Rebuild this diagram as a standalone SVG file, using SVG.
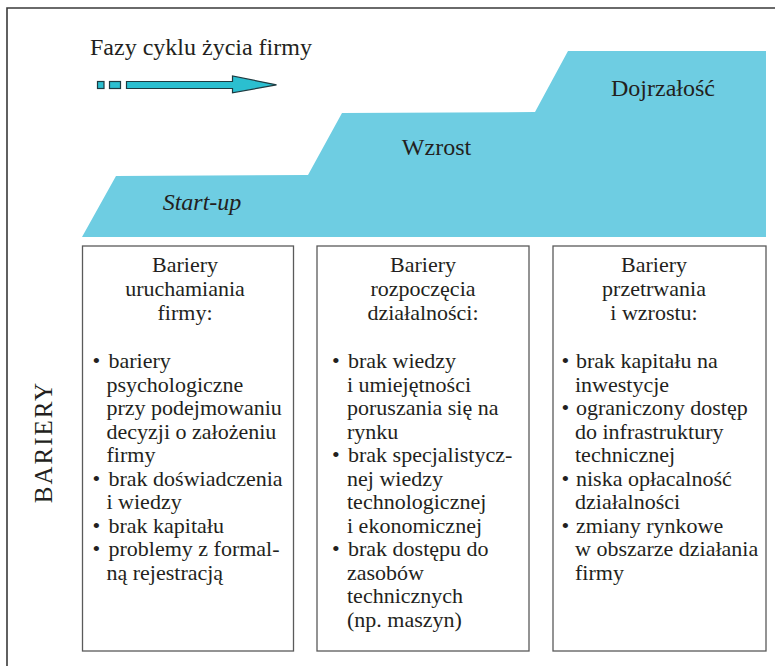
<svg xmlns="http://www.w3.org/2000/svg" width="775" height="666" viewBox="0 0 775 666">
  <style>
    text { fill: #231f20; }
    .head { font-size: 22px; text-anchor: middle; }
    .item { font-size: 22px; }
    .phase { font-size: 24px; text-anchor: middle; }
    .box { fill: #ffffff; stroke: #5a5a5a; stroke-width: 1.3; }
    .arrow { fill: #2bbfd0; stroke: #1d3a40; stroke-width: 1.2; }
  </style>

  <g font-family="'Liberation Serif', 'Times New Roman', serif">
  <!-- outer frame (open at right and bottom) -->
  <path d="M7,666 L7,8 L775,8" fill="none" stroke="#3a3a3a" stroke-width="1.6"/>

  <!-- title -->
  <g id="title">
    <text x="90" y="55" font-size="24">Fazy cyklu życia firmy</text>
  </g>

  <!-- direction arrow -->
  <g id="phase-arrow">
    <rect class="arrow" x="97.5" y="81.5" width="6.5" height="7"/>
    <rect class="arrow" x="109.5" y="81.5" width="11" height="7"/>
    <path class="arrow" d="M126.5,81.5 L232.5,81.5 L232.5,76 L276.5,84.8 L232.5,92.8 L232.5,88.5 L126.5,88.5 Z"/>
  </g>

  <!-- life-cycle phases as a staircase -->
  <g id="phases">
    <path d="M82,237 L116,176 L308,175 L342,113 L535,112 L568,51 L766,51 L766,237 Z" fill="#6ecde2"/>
    <text class="phase" x="202" y="210" font-style="italic">Start-up</text>
    <text class="phase" x="436.5" y="154.5">Wzrost</text>
    <text class="phase" x="663" y="95.5">Dojrzałość</text>
  </g>

  <!-- side label -->
  <g id="side-label">
    <text transform="translate(51.5,442) rotate(-90)" font-size="25" letter-spacing="2" text-anchor="middle">BARIERY</text>
  </g>

  <!-- barrier boxes -->
  <g id="box-startup">
    <rect class="box" x="82.5" y="246" width="211" height="405"/>
    <text class="head" x="185" y="272">Bariery</text>
    <text class="head" x="185" y="296">uruchamiania</text>
    <text class="head" x="185" y="320">firmy:</text>
    <text class="item" x="92.5" y="368">•</text>
    <text class="item" x="108.5" y="368">bariery</text>
    <text class="item" x="106.5" y="391.5">psychologiczne</text>
    <text class="item" x="106.5" y="415">przy podejmowaniu</text>
    <text class="item" x="106.5" y="438.5">decyzji o założeniu</text>
    <text class="item" x="106.5" y="462">firmy</text>
    <text class="item" x="92.5" y="485.5">•</text>
    <text class="item" x="108.5" y="485.5">brak doświadczenia</text>
    <text class="item" x="106.5" y="509">i wiedzy</text>
    <text class="item" x="92.5" y="532.5">•</text>
    <text class="item" x="108.5" y="532.5">brak kapitału</text>
    <text class="item" x="92.5" y="556">•</text>
    <text class="item" x="108.5" y="556">problemy z formal-</text>
    <text class="item" x="106.5" y="579.5">ną rejestracją</text>
  </g>

  <g id="box-growth">
    <rect class="box" x="317" y="246" width="212" height="405"/>
    <text class="head" x="423" y="272">Bariery</text>
    <text class="head" x="423" y="296">rozpoczęcia</text>
    <text class="head" x="423" y="320">działalności:</text>
    <text class="item" x="332" y="368">•</text>
    <text class="item" x="348" y="368">brak wiedzy</text>
    <text class="item" x="347" y="391.5">i umiejętności</text>
    <text class="item" x="347" y="415">poruszania się na</text>
    <text class="item" x="347" y="438.5">rynku</text>
    <text class="item" x="332" y="462">•</text>
    <text class="item" x="348" y="462">brak specjalistycz-</text>
    <text class="item" x="347" y="485.5">nej wiedzy</text>
    <text class="item" x="347" y="509">technologicznej</text>
    <text class="item" x="347" y="532.5">i ekonomicznej</text>
    <text class="item" x="332" y="556">•</text>
    <text class="item" x="348" y="556">brak dostępu do</text>
    <text class="item" x="347" y="579.5">zasobów</text>
    <text class="item" x="347" y="603">technicznych</text>
    <text class="item" x="347" y="626.5">(np. maszyn)</text>
  </g>

  <g id="box-maturity">
    <rect class="box" x="553" y="246" width="213" height="405"/>
    <text class="head" x="654" y="272">Bariery</text>
    <text class="head" x="654" y="296">przetrwania</text>
    <text class="head" x="654" y="320">i wzrostu:</text>
    <text class="item" x="561.5" y="368">•</text>
    <text class="item" x="576" y="368">brak kapitału na</text>
    <text class="item" x="575" y="391.5">inwestycje</text>
    <text class="item" x="561.5" y="415">•</text>
    <text class="item" x="576" y="415">ograniczony dostęp</text>
    <text class="item" x="575" y="438.5">do infrastruktury</text>
    <text class="item" x="575" y="462">technicznej</text>
    <text class="item" x="561.5" y="485.5">•</text>
    <text class="item" x="576" y="485.5">niska opłacalność</text>
    <text class="item" x="575" y="509">działalności</text>
    <text class="item" x="561.5" y="532.5">•</text>
    <text class="item" x="576" y="532.5">zmiany rynkowe</text>
    <text class="item" x="575" y="556">w obszarze działania</text>
    <text class="item" x="575" y="579.5">firmy</text>
  </g>

  <g id="connectors"/>
  </g>
</svg>
